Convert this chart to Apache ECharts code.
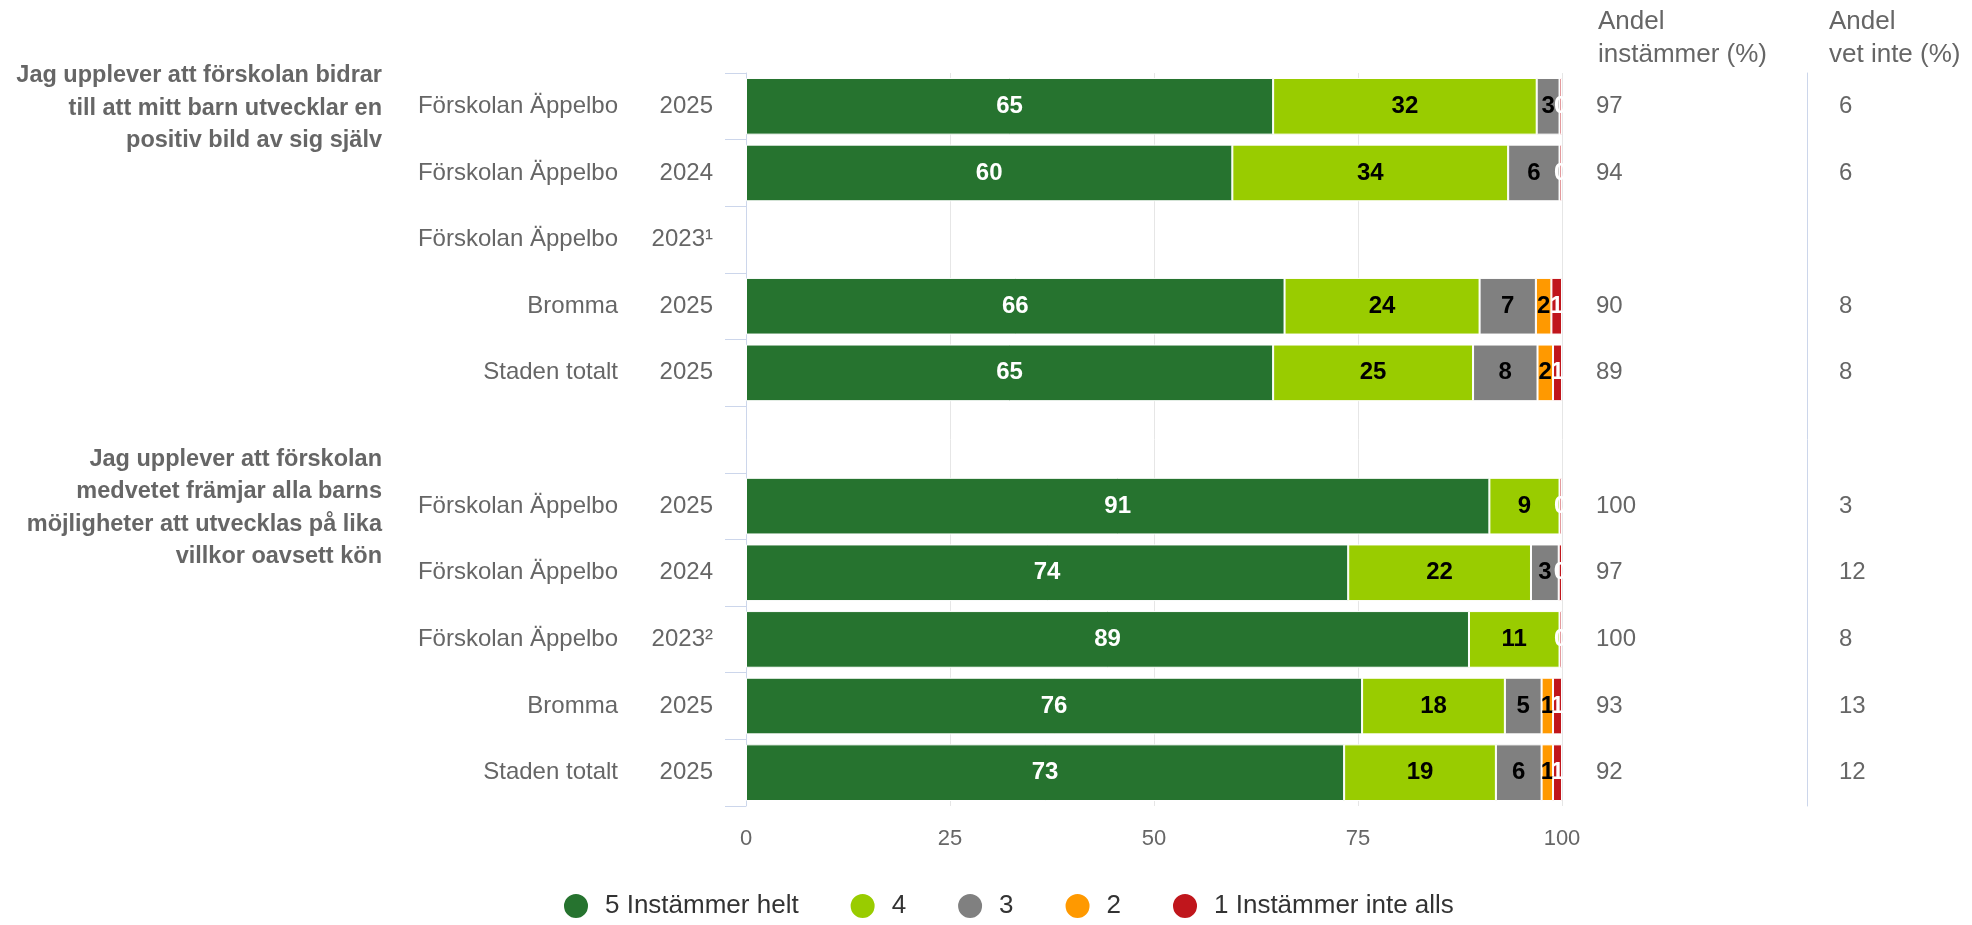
<!DOCTYPE html>
<html><head><meta charset="utf-8">
<script src="https://cdn.jsdelivr.net/npm/echarts@6/dist/echarts.min.js"></script>
<style>html,body{margin:0;padding:0;background:#fff}#c{width:1972px;height:925px}</style>
</head><body><div id="c"></div>
<script>
// ---- data ----
const groupLabels = [
  'Jag upplever att förskolan bidrar\ntill att mitt barn utvecklar en\npositiv bild av sig själv',
  'Jag upplever att förskolan\nmedvetet främjar alla barns\nmöjligheter att utvecklas på lika\nvillkor oavsett kön'
];
const groupStartRows = [0, 6];
const units = ['Förskolan Äppelbo','Förskolan Äppelbo','Förskolan Äppelbo','Bromma','Staden totalt','',
               'Förskolan Äppelbo','Förskolan Äppelbo','Förskolan Äppelbo','Bromma','Staden totalt'];
const years = ['2025','2024','2023¹','2025','2025','','2025','2024','2023²','2025','2025'];
const seriesNames = ['5 Instämmer helt','4','3','2','1 Instämmer inte alls'];
const s5 = [64.6, 59.6, null, 66.0, 64.6, null, 91.1, 73.8, 88.6, 75.5, 73.3];
const s4 = [32.3, 33.8, null, 23.9, 24.5, null, 8.6, 22.4, 11.1, 17.5, 18.6];
const s3 = [2.8, 6.3, null, 6.9, 7.9, null, null, 3.4, null, 4.5, 5.6];
const s2 = [null, null, null, 1.9, 1.9, null, null, null, null, 1.4, 1.4];
const s1 = [0.3, 0.3, null, 1.3, 1.1, null, 0.3, 0.4, 0.3, 1.1, 1.1];
const shareAgree = ['97','94','','90','89','','100','97','100','93','92'];
const shareDontKnow = ['6','6','','8','8','','3','12','8','13','12'];
const colHeaders = ['Andel\ninstämmer (%)', 'Andel\nvet inte (%)'];
const xMin = 0, xMax = 100, xInterval = 25;

// ---- styles ----
const FONT = '"Liberation Sans", Arial, Helvetica, sans-serif';
const colors = ['#26732f', '#99cc00', '#808080', '#ff9900', '#c0161c'];
const labelColors = ['#ffffff', '#000000', '#000000', '#000000', '#ffffff'];
const seriesData = [s5, s4, s3, s2, s1];
const cats = units.map((u, i) => String(i));

const chart = echarts.init(document.getElementById('c'), null, {renderer: 'canvas'});

const option = {
  animation: false,
  backgroundColor: '#ffffff',
  textStyle: {fontFamily: FONT},
  color: colors,
  grid: {left: 746, top: 73, width: 816, height: 733},
  legend: {
    left: 557, top: 887,
    icon: 'circle', itemWidth: 26, itemHeight: 26, itemGap: 50,
    textStyle: {fontSize: 26, color: '#333333', fontFamily: FONT, padding: [0, 0, 0, 11]},
    data: seriesNames
  },
  xAxis: {
    type: 'value', min: xMin, max: xMax, interval: xInterval,
    axisLine: {show: false}, axisTick: {show: false},
    splitLine: {show: true, lineStyle: {color: '#e6e6e6', width: 1}},
    axisLabel: {fontSize: 22, color: '#666666', margin: 22, fontFamily: FONT}
  },
  yAxis: [
    {
      type: 'category', data: cats, inverse: true, position: 'left',
      axisLine: {show: true, lineStyle: {color: '#ccd6eb', width: 1}},
      axisTick: {show: true, length: 21, lineStyle: {color: '#ccd6eb', width: 1}},
      splitLine: {show: false},
      axisLabel: {
        margin: 33,
        formatter: (v, i) => units[i] ? '{n|' + units[i] + '}{y|' + years[i] + '}' : '',
        rich: {
          n: {fontSize: 24, color: '#666666', fontFamily: FONT},
          y: {fontSize: 24, color: '#666666', fontFamily: FONT, width: 95, align: 'right'}
        }
      }
    },
    {
      type: 'category', data: cats, inverse: true, position: 'right', offset: 0,
      axisLine: {show: false}, axisTick: {show: false}, splitLine: {show: false},
      axisLabel: {margin: 34, fontSize: 24, color: '#666666', fontFamily: FONT,
        formatter: (v, i) => shareAgree[i]}
    },
    {
      type: 'category', data: cats, inverse: true, position: 'right', offset: 245,
      axisLine: {show: true, lineStyle: {color: '#ccd6eb', width: 1}},
      axisTick: {show: false}, splitLine: {show: false},
      axisLabel: {margin: 32, fontSize: 24, color: '#666666', fontFamily: FONT,
        formatter: (v, i) => shareDontKnow[i]}
    }
  ],
  series: seriesNames.map((name, k) => ({
    name: name,
    type: 'bar',
    stack: 'total',
    yAxisIndex: 0,
    barCategoryGap: '15%',
    data: seriesData[k],
    itemStyle: {color: colors[k], borderColor: '#ffffff', borderWidth: 1},
    label: {
      show: true, position: 'inside',
      fontSize: 24, fontWeight: 'bold', fontFamily: FONT,
      color: labelColors[k],
      formatter: p => (p.value == null ? '' : String(Math.round(p.value)))
    }
  }))
};
chart.setOption(option);

// group labels and column headers
const graphics = [];
groupStartRows.forEach((r, i) => {
  const y = chart.convertToPixel({yAxisIndex: 0}, r);
  graphics.push({
    type: 'text', x: 382, y: y + 2, silent: true,
    style: {text: groupLabels[i], align: 'right', verticalAlign: 'middle',
      fontSize: 23.5, fontWeight: 'bold', fontFamily: FONT, fill: '#666666', lineHeight: 32.5}
  });
});
const headerX = [1598, 1829];
colHeaders.forEach((h, i) => {
  graphics.push({
    type: 'text', x: headerX[i], y: 5, silent: true,
    style: {text: h, align: 'left', verticalAlign: 'top',
      fontSize: 26, fontFamily: FONT, fill: '#666666', lineHeight: 33}
  });
});
chart.setOption({graphic: graphics});
</script>
</body></html>
